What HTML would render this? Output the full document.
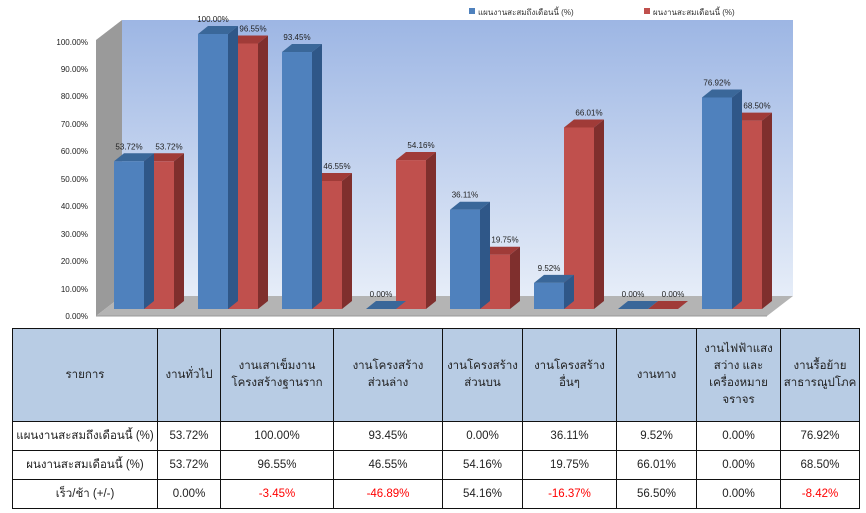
<!DOCTYPE html>
<html><head><meta charset="utf-8"><style>
body{margin:0;width:866px;height:513px;background:#fff;overflow:hidden;position:relative;font-family:"Liberation Sans","DejaVu Sans",sans-serif}
svg{position:absolute;left:0;top:0}
table{position:absolute;left:12px;top:328px;border-collapse:collapse;font-size:11.5px;color:#222}
td{border:1.5px solid #111;text-align:center;padding:0;line-height:17px;white-space:nowrap}
tr.h td{background:#b8cce4;height:92px}
tr.r td{height:28px}
.n{color:#f00}
</style></head><body>
<svg width="866" height="330" viewBox="0 0 866 330">
<defs><linearGradient id="w" x1="0" y1="0" x2="0" y2="1"><stop offset="0" stop-color="#9db6e4"/><stop offset="1" stop-color="#e6edf8"/></linearGradient></defs>
<polygon points="122,20 793,20 793,296 122,296" fill="url(#w)"/>
<polygon points="96,40 122,20 122,296 96,316" fill="#9a9a9a"/>
<polygon points="96,316 767,316 793,296 122,296" fill="#b4b4b4"/>
<line x1="96" y1="316" x2="767" y2="316" stroke="#999"/>
<g font-size="8" fill="#222" text-anchor="end">
<text x="88" y="319">0.00%</text><text x="88" y="292">10.00%</text><text x="88" y="264">20.00%</text><text x="88" y="237">30.00%</text><text x="88" y="209">40.00%</text><text x="88" y="182">50.00%</text><text x="88" y="154">60.00%</text><text x="88" y="127">70.00%</text><text x="88" y="99">80.00%</text><text x="88" y="72">90.00%</text><text x="88" y="45">100.00%</text>
</g>
<g font-size="8" fill="#333">
<rect x="469" y="8" width="6" height="6" fill="#4f81bd"/><text x="478" y="15">แผนงานสะสมถึงเดือนนี้ (%)</text>
<rect x="644" y="8" width="6" height="6" fill="#c0504d"/><text x="653" y="15">ผนงานสะสมเดือนนี้ (%)</text>
</g>
<g id="bars"></g>
<g font-size="8" fill="#222" text-anchor="middle" id="lbl"></g>
</svg>
<script>
var b=[53.72,100,93.45,0,36.11,9.52,0,76.92],r=[53.72,96.55,46.55,54.16,19.75,66.01,0,68.5];
var s='',l='';
function bar(x,v,f,sd,tp){var y=309-v*2.75;
s+='<polygon points="'+x+','+y+' '+(x+10)+','+(y-8)+' '+(x+40)+','+(y-8)+' '+(x+30)+','+y+'" fill="'+tp+'"/>';
s+='<polygon points="'+(x+30)+','+y+' '+(x+40)+','+(y-8)+' '+(x+40)+','+(301)+' '+(x+30)+',309" fill="'+sd+'"/>';
s+='<rect x="'+x+'" y="'+y+'" width="30" height="'+(309-y)+'" fill="'+f+'"/>';}
for(var i=0;i<8;i++){var x=114+i*84;
bar(x+30,r[i],'#c0504d','#7f2f2d','#a03b38');bar(x,b[i],'#4f81bd','#2f5788','#3a6799');}
for(var i=0;i<8;i++){var x=114+i*84;
l+='<text x="'+(x+15)+'" y="'+(309-b[i]*2.75-12)+'">'+b[i].toFixed(2)+'%</text>';
l+='<text x="'+(x+55)+'" y="'+(309-r[i]*2.75-12)+'">'+r[i].toFixed(2)+'%</text>';}
document.getElementById('bars').innerHTML=s;document.getElementById('lbl').innerHTML=l;
</script>
<table>
<colgroup><col style="width:145px"><col style="width:63px"><col style="width:113px"><col style="width:109px"><col style="width:80px"><col style="width:94px"><col style="width:80px"><col style="width:84px"><col style="width:79px"></colgroup>
<tr class="h"><td>รายการ</td><td>งานทั่วไป</td><td>งานเสาเข็มงาน<br>โครงสร้างฐานราก</td><td>งานโครงสร้าง<br>ส่วนล่าง</td><td>งานโครงสร้าง<br>ส่วนบน</td><td>งานโครงสร้าง<br>อื่นๆ</td><td>งานทาง</td><td>งานไฟฟ้าแสง<br>สว่าง และ<br>เครื่องหมาย<br>จราจร</td><td>งานรื้อย้าย<br>สาธารณูปโภค</td></tr>
<tr class="r"><td>แผนงานสะสมถึงเดือนนี้ (%)</td><td>53.72%</td><td>100.00%</td><td>93.45%</td><td>0.00%</td><td>36.11%</td><td>9.52%</td><td>0.00%</td><td>76.92%</td></tr>
<tr class="r"><td>ผนงานสะสมเดือนนี้ (%)</td><td>53.72%</td><td>96.55%</td><td>46.55%</td><td>54.16%</td><td>19.75%</td><td>66.01%</td><td>0.00%</td><td>68.50%</td></tr>
<tr class="r"><td>เร็ว/ช้า (+/-)</td><td>0.00%</td><td class="n">-3.45%</td><td class="n">-46.89%</td><td>54.16%</td><td class="n">-16.37%</td><td>56.50%</td><td>0.00%</td><td class="n">-8.42%</td></tr>
</table>
</body></html>
